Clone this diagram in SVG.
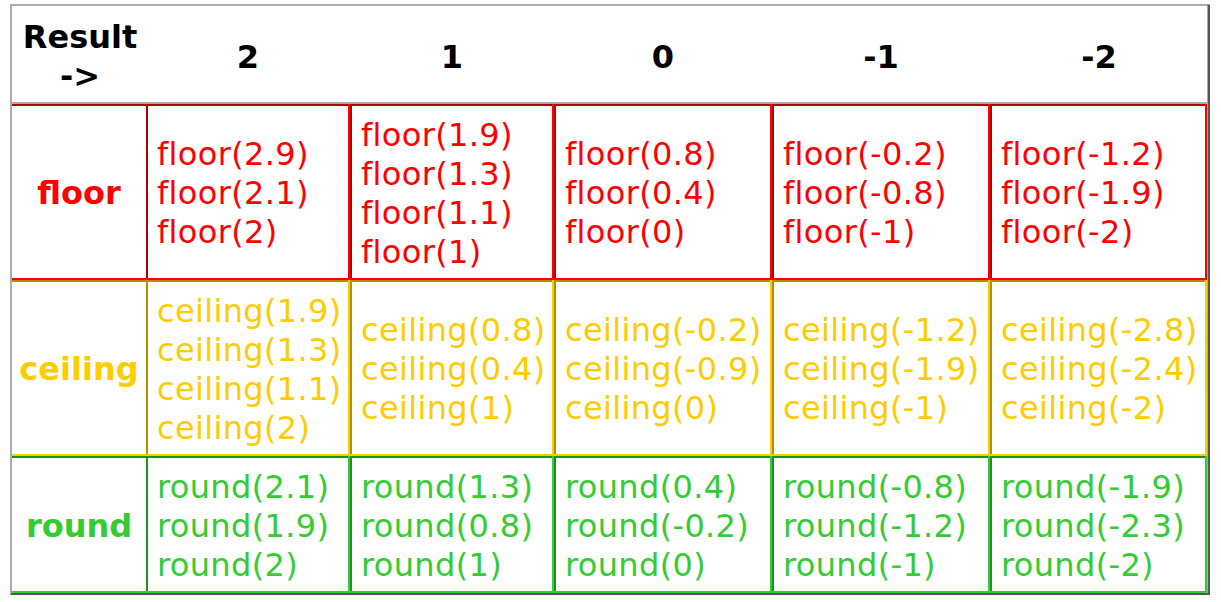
<svg xmlns="http://www.w3.org/2000/svg" width="1221" height="602" viewBox="0 0 1221 602">
<style>
text{font-family:"DejaVu Sans","Verdana",sans-serif;font-size:32px}
.h{font-weight:bold;fill:#000;text-anchor:middle}
.lb{font-weight:bold;text-anchor:middle}
.r,.y,.g{letter-spacing:0.35px}
.lb{letter-spacing:0}
.r{fill:#ff0000}.y{fill:#ffcc00}.g{fill:#33cc33}
.rd{fill:#b30000}.rb{fill:#ff0000}
.yd{fill:#b38f00}.yb{fill:#ffcc00}
.gd{fill:#238f23}.gb{fill:#33cc33}
.lt{fill:#ababab}.dk{fill:#555555}
</style>
<rect x="0" y="0" width="1221" height="602" fill="#ffffff"/>
<g id="table-frame">
<rect class="lt" x="10" y="4" width="1200" height="2"/>
<rect class="lt" x="10" y="4" width="2" height="591"/>
<rect class="dk" x="1207.5" y="5" width="2.5" height="590"/>
<rect class="dk" x="11" y="593" width="1199" height="2"/>
<rect class="lt" x="12" y="102" width="1195.5" height="2"/>
</g>
<g id="header">
<text class="h" x="80" y="48">Result</text>
<text class="h" x="80" y="87">-&gt;</text>
<text class="h" x="248" y="67.5">2</text>
<text class="h" x="452" y="67.5">1</text>
<text class="h" x="663" y="67.5">0</text>
<text class="h" x="881" y="67.5">-1</text>
<text class="h" x="1099" y="67.5">-2</text>
</g>
<g id="row-floor">
<g id="floor-label">
<rect class="rd" x="12" y="104" width="134" height="2"/>
<rect class="rb" x="12" y="278" width="134" height="2"/>
<text class="lb r" x="79" y="204">floor</text>
</g>
<g id="floor-2">
<rect class="rd" x="146" y="104" width="204" height="2"/><rect class="rd" x="146" y="104" width="2" height="176"/>
<rect class="rb" x="146" y="278" width="204" height="2"/><rect class="rb" x="348" y="104" width="2" height="176"/>
<text class="r" x="157" y="165">floor(2.9)</text><text class="r" x="157" y="204">floor(2.1)</text><text class="r" x="157" y="243">floor(2)</text>
</g>
<g id="floor-1">
<rect class="rd" x="350" y="104" width="204" height="2"/><rect class="rd" x="350" y="104" width="2" height="176"/>
<rect class="rb" x="350" y="278" width="204" height="2"/><rect class="rb" x="552" y="104" width="2" height="176"/>
<text class="r" x="361" y="145.5">floor(1.9)</text><text class="r" x="361" y="184.5">floor(1.3)</text><text class="r" x="361" y="223.5">floor(1.1)</text><text class="r" x="361" y="262.5">floor(1)</text>
</g>
<g id="floor-0">
<rect class="rd" x="554" y="104" width="218" height="2"/><rect class="rd" x="554" y="104" width="2" height="176"/>
<rect class="rb" x="554" y="278" width="218" height="2"/><rect class="rb" x="770" y="104" width="2" height="176"/>
<text class="r" x="565" y="165">floor(0.8)</text><text class="r" x="565" y="204">floor(0.4)</text><text class="r" x="565" y="243">floor(0)</text>
</g>
<g id="floor-m1">
<rect class="rd" x="772" y="104" width="218" height="2"/><rect class="rd" x="772" y="104" width="2" height="176"/>
<rect class="rb" x="772" y="278" width="218" height="2"/><rect class="rb" x="988" y="104" width="2" height="176"/>
<text class="r" x="783" y="165">floor(-0.2)</text><text class="r" x="783" y="204">floor(-0.8)</text><text class="r" x="783" y="243">floor(-1)</text>
</g>
<g id="floor-m2">
<rect class="rd" x="990" y="104" width="217" height="2"/><rect class="rd" x="990" y="104" width="2" height="176"/>
<rect class="rb" x="990" y="278" width="217" height="2"/><rect class="rb" x="1205" y="104" width="2" height="176"/>
<text class="r" x="1001" y="165">floor(-1.2)</text><text class="r" x="1001" y="204">floor(-1.9)</text><text class="r" x="1001" y="243">floor(-2)</text>
</g>
</g>
<g id="row-ceiling">
<g id="ceiling-label">
<rect class="yd" x="12" y="280" width="134" height="2"/>
<rect class="yb" x="12" y="454" width="134" height="2"/>
<text class="lb y" x="79" y="380">ceiling</text>
</g>
<g id="ceiling-2">
<rect class="yd" x="146" y="280" width="204" height="2"/><rect class="yd" x="146" y="280" width="2" height="176"/>
<rect class="yb" x="146" y="454" width="204" height="2"/><rect class="yb" x="348" y="280" width="2" height="176"/>
<text class="y" x="157" y="321.5">ceiling(1.9)</text><text class="y" x="157" y="360.5">ceiling(1.3)</text><text class="y" x="157" y="399.5">ceiling(1.1)</text><text class="y" x="157" y="438.5">ceiling(2)</text>
</g>
<g id="ceiling-1">
<rect class="yd" x="350" y="280" width="204" height="2"/><rect class="yd" x="350" y="280" width="2" height="176"/>
<rect class="yb" x="350" y="454" width="204" height="2"/><rect class="yb" x="552" y="280" width="2" height="176"/>
<text class="y" x="361" y="341">ceiling(0.8)</text><text class="y" x="361" y="380">ceiling(0.4)</text><text class="y" x="361" y="419">ceiling(1)</text>
</g>
<g id="ceiling-0">
<rect class="yd" x="554" y="280" width="218" height="2"/><rect class="yd" x="554" y="280" width="2" height="176"/>
<rect class="yb" x="554" y="454" width="218" height="2"/><rect class="yb" x="770" y="280" width="2" height="176"/>
<text class="y" x="565" y="341">ceiling(-0.2)</text><text class="y" x="565" y="380">ceiling(-0.9)</text><text class="y" x="565" y="419">ceiling(0)</text>
</g>
<g id="ceiling-m1">
<rect class="yd" x="772" y="280" width="218" height="2"/><rect class="yd" x="772" y="280" width="2" height="176"/>
<rect class="yb" x="772" y="454" width="218" height="2"/><rect class="yb" x="988" y="280" width="2" height="176"/>
<text class="y" x="783" y="341">ceiling(-1.2)</text><text class="y" x="783" y="380">ceiling(-1.9)</text><text class="y" x="783" y="419">ceiling(-1)</text>
</g>
<g id="ceiling-m2">
<rect class="yd" x="990" y="280" width="217" height="2"/><rect class="yd" x="990" y="280" width="2" height="176"/>
<rect class="yb" x="990" y="454" width="217" height="2"/><rect class="yb" x="1205" y="280" width="2" height="176"/>
<text class="y" x="1001" y="341">ceiling(-2.8)</text><text class="y" x="1001" y="380">ceiling(-2.4)</text><text class="y" x="1001" y="419">ceiling(-2)</text>
</g>
</g>
<g id="row-round">
<g id="round-label">
<rect class="gd" x="12" y="456" width="134" height="2"/>
<rect class="gb" x="12" y="591" width="134" height="2"/>
<text class="lb g" x="79" y="537">round</text>
</g>
<g id="round-2">
<rect class="gd" x="146" y="456" width="204" height="2"/><rect class="gd" x="146" y="456" width="2" height="137"/>
<rect class="gb" x="146" y="591" width="204" height="2"/><rect class="gb" x="348" y="456" width="2" height="137"/>
<text class="g" x="157" y="498">round(2.1)</text><text class="g" x="157" y="537">round(1.9)</text><text class="g" x="157" y="576">round(2)</text>
</g>
<g id="round-1">
<rect class="gd" x="350" y="456" width="204" height="2"/><rect class="gd" x="350" y="456" width="2" height="137"/>
<rect class="gb" x="350" y="591" width="204" height="2"/><rect class="gb" x="552" y="456" width="2" height="137"/>
<text class="g" x="361" y="498">round(1.3)</text><text class="g" x="361" y="537">round(0.8)</text><text class="g" x="361" y="576">round(1)</text>
</g>
<g id="round-0">
<rect class="gd" x="554" y="456" width="218" height="2"/><rect class="gd" x="554" y="456" width="2" height="137"/>
<rect class="gb" x="554" y="591" width="218" height="2"/><rect class="gb" x="770" y="456" width="2" height="137"/>
<text class="g" x="565" y="498">round(0.4)</text><text class="g" x="565" y="537">round(-0.2)</text><text class="g" x="565" y="576">round(0)</text>
</g>
<g id="round-m1">
<rect class="gd" x="772" y="456" width="218" height="2"/><rect class="gd" x="772" y="456" width="2" height="137"/>
<rect class="gb" x="772" y="591" width="218" height="2"/><rect class="gb" x="988" y="456" width="2" height="137"/>
<text class="g" x="783" y="498">round(-0.8)</text><text class="g" x="783" y="537">round(-1.2)</text><text class="g" x="783" y="576">round(-1)</text>
</g>
<g id="round-m2">
<rect class="gd" x="990" y="456" width="217" height="2"/><rect class="gd" x="990" y="456" width="2" height="137"/>
<rect class="gb" x="990" y="591" width="217" height="2"/><rect class="gb" x="1205" y="456" width="2" height="137"/>
<text class="g" x="1001" y="498">round(-1.9)</text><text class="g" x="1001" y="537">round(-2.3)</text><text class="g" x="1001" y="576">round(-2)</text>
</g>
</g>
</svg>
